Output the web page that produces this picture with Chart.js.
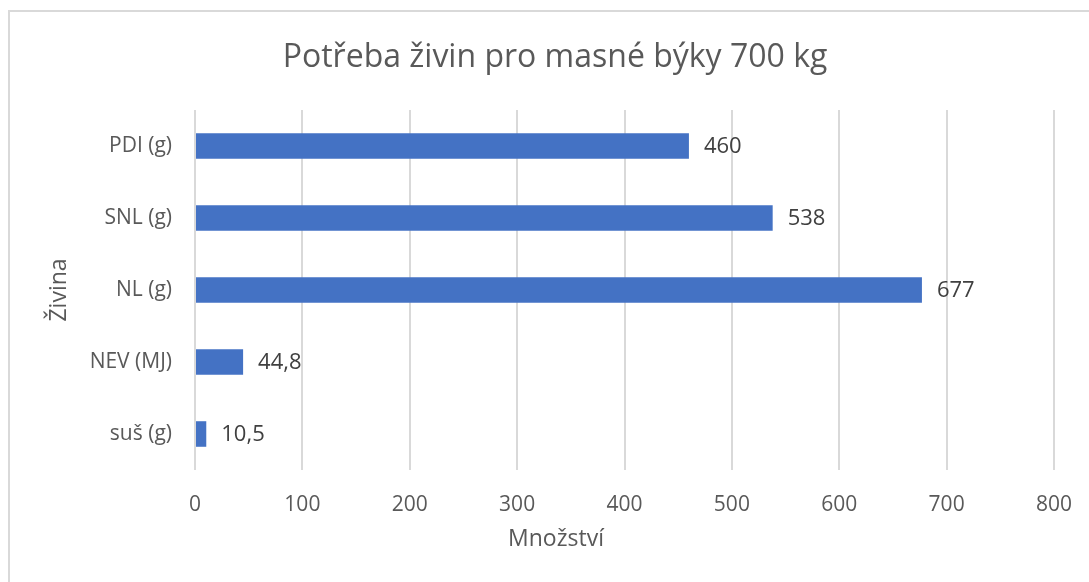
<!DOCTYPE html>
<html>
<head>
<meta charset="utf-8">
<script src="https://cdn.jsdelivr.net/npm/chart.js@4"></script>
<style>
  html, body { margin: 0; padding: 0; background: #fff; }
  #wrap { position: relative; width: 1089px; height: 582px; overflow: hidden; }
  #frame { position: absolute; left: 8px; top: 10px; width: 1120px; height: 620px;
           border: 2px solid #d9d9d9; box-sizing: border-box; pointer-events: none; }
  canvas { position: absolute; left: 0; top: 0; }
</style>
</head>
<body>
<div id="wrap">
  <canvas id="chart" width="1089" height="582"></canvas>
  <div id="frame"></div>
</div>
<script>
const categories = ['PDI (g)', 'SNL (g)', 'NL (g)', 'NEV (MJ)', 'suš (g)'];
const values = [460, 538, 677, 44.8, 10.5];
const xTicks = [0, 100, 200, 300, 400, 500, 600, 700, 800];
const chartTitle = 'Potřeba živin pro masné býky 700 kg';
const xTitle = 'Množství';
const yTitle = 'Živina';

const FONT = '"Open Sans", "DejaVu Sans", sans-serif';

// popisky hodnot vpravo od sloupců
const valueLabels = {
    id: 'valueLabels',
    afterDatasetsDraw(chart) {
        const ctx = chart.ctx;
        const meta = chart.getDatasetMeta(0);
        ctx.save();
        ctx.font = '22px ' + FONT;
        ctx.fillStyle = '#404040';
        ctx.textAlign = 'left';
        ctx.textBaseline = 'middle';
        meta.data.forEach((bar, i) => {
            const txt = String(values[i]).replace('.', ',');
            ctx.fillText(txt, bar.x + 15, bar.y + 1);
        });
        ctx.restore();
    }
};

// nadpis grafu a název osy x – jako v Excelu, vystředěné na celý rámeček
const titles = {
    id: 'titles',
    afterDraw(chart) {
        const ctx = chart.ctx;
        ctx.save();
        ctx.fillStyle = '#595959';
        ctx.textAlign = 'center';
        ctx.textBaseline = 'middle';
        ctx.font = '32px ' + FONT;
        ctx.fillText(chartTitle, 555, 58);
        ctx.font = '23px ' + FONT;
        ctx.fillText(xTitle, 556, 539);
        ctx.restore();
    }
};

new Chart(document.getElementById('chart'), {
    type: 'bar',
    data: {
        labels: categories,
        datasets: [{
            data: values,
            backgroundColor: '#4472c4',
            borderWidth: 0,
            categoryPercentage: 1,
            barPercentage: 0.355
        }]
    },
    options: {
        indexAxis: 'y',
        responsive: false,
        animation: false,
        layout: { padding: { left: 0, right: 35, top: 110, bottom: 0 } },
        plugins: {
            legend: { display: false },
            tooltip: { enabled: false },
            title: { display: false }
        },
        scales: {
            x: {
                min: 0,
                max: 800,
                afterBuildTicks: (scale) => { scale.ticks = xTicks.map(v => ({ value: v })); },
                grid: { color: '#d9d9d9', lineWidth: 2, drawTicks: false },
                border: { display: false },
                ticks: { color: '#595959', font: { family: FONT, size: 21 }, padding: 22 },
                afterFit: (scale) => {
                    scale.height = 112;
                    scale.paddingLeft = 0;
                    scale.paddingRight = 0;
                }
            },
            y: {
                grid: { display: false },
                border: { display: false },
                ticks: { color: '#595959', font: { family: FONT, size: 21 }, padding: 15 },
                title: {
                    display: true,
                    text: yTitle,
                    color: '#595959',
                    font: { family: FONT, size: 23 },
                    padding: { top: 46, bottom: 0 }
                },
                afterFit: (scale) => { scale.width = 195; }
            }
        }
    },
    plugins: [valueLabels, titles]
});
</script>
</body>
</html>
